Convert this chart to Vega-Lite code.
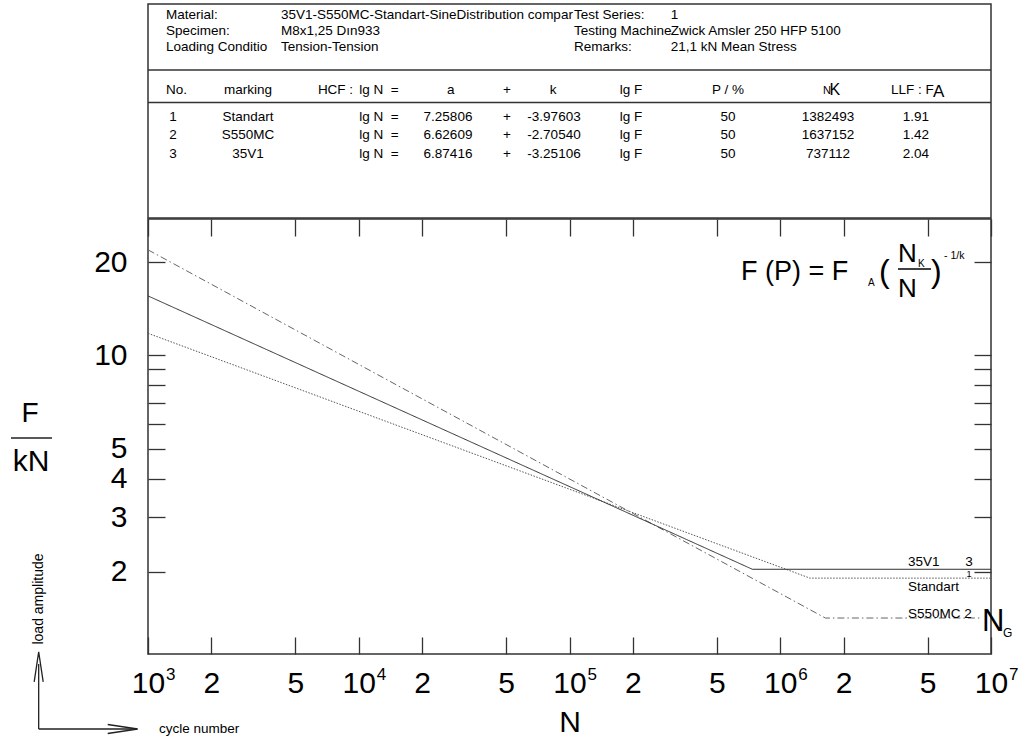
{
  "$schema": "https://vega.github.io/schema/vega-lite/v6.json",
  "background": "white",
  "padding": {"left": 9, "top": 3, "right": 0, "bottom": 0},
  "spacing": -4,
  "config": {
    "font": "Liberation Sans",
    "view": {"stroke": "#333", "strokeWidth": 1.5},
    "text": {"color": "#000", "font": "Liberation Sans", "fontSize": 13.5},
    "locale": {"number": {"decimal": ".", "thousands": ",", "grouping": [3], "currency": ["$", ""], "minus": "-"}}
  },
  "datasets": {
    "lines": [
      {"marking": "Standart", "N": 1000, "F": 11.776},
      {"marking": "Standart", "N": 1382493, "F": 1.91},
      {"marking": "Standart", "N": 10000000, "F": 1.91},
      {"marking": "S550MC", "N": 1000, "F": 21.894},
      {"marking": "S550MC", "N": 1637152, "F": 1.42},
      {"marking": "S550MC", "N": 9000000, "F": 1.42},
      {"marking": "35V1", "N": 1000, "F": 15.546},
      {"marking": "35V1", "N": 737112, "F": 2.04},
      {"marking": "35V1", "N": 10000000, "F": 2.04}
    ],
    "table": [
      {"No": 1, "marking": "Standart", "a": 7.25806, "k": -3.97603, "P": 50, "NK": 1382493, "LLF": 1.91},
      {"No": 2, "marking": "S550MC", "a": 6.62609, "k": -2.7054, "P": 50, "NK": 1637152, "LLF": 1.42},
      {"No": 3, "marking": "35V1", "a": 6.87416, "k": -3.25106, "P": 50, "NK": 737112, "LLF": 2.04}
    ],
    "info": [
      {"line": 1, "label": "Material:", "value": "35V1-S550MC-Standart-SineDistribution compar", "label2": "Test Series:", "value2": "1"},
      {"line": 2, "label": "Specimen:", "value": "M8x1,25 Dın933", "label2": "Testing Machine", "value2": "Zwick Amsler 250 HFP 5100"},
      {"line": 3, "label": "Loading Conditio", "value": "Tension-Tension", "label2": "Remarks:", "value2": "21,1 kN Mean Stress"}
    ],
    "decades": [
      {"N": 1000, "exp": "3"},
      {"N": 10000, "exp": "4"},
      {"N": 100000, "exp": "5"},
      {"N": 1000000, "exp": "6"},
      {"N": 10000000, "exp": "7"}
    ]
  },
  "vconcat": [
    {
      "width": 843,
      "height": 214,
      "data": {"values": [{}]},
      "layer": [
        {
          "data": {"name": "info"},
          "layer": [
            {"mark": {"type": "text", "align": "left", "baseline": "alphabetic", "fontSize": 13.5},
             "encoding": {"x": {"datum": 2.135, "type": "quantitative", "scale": {"domain": [0, 100], "nice": false, "zero": false}, "axis": null},
                          "y": {"field": "line", "type": "quantitative", "scale": {"domain": [0.0316, 13.576], "reverse": true, "nice": false, "zero": false}, "axis": null},
                          "text": {"field": "label"}}},
            {"mark": {"type": "text", "align": "left", "baseline": "alphabetic", "fontSize": 13.5},
             "encoding": {"x": {"datum": 15.777, "axis": null}, "y": {"field": "line", "type": "quantitative", "axis": null}, "text": {"field": "value"}}},
            {"mark": {"type": "text", "align": "left", "baseline": "alphabetic", "fontSize": 13.5},
             "encoding": {"x": {"datum": 50.534, "axis": null}, "y": {"field": "line", "type": "quantitative", "axis": null}, "text": {"field": "label2"}}},
            {"mark": {"type": "text", "align": "left", "baseline": "alphabetic", "fontSize": 13.5},
             "encoding": {"x": {"datum": 62.0, "axis": null}, "y": {"field": "line", "type": "quantitative", "axis": null}, "text": {"field": "value2"}}}
          ]
        },
        {
          "layer": [
            {"data": {"name": "table"}, "mark": {"type": "text", "align": "center", "baseline": "alphabetic"},
             "encoding": {"x": {"datum": 2.966, "axis": null},
                          "y": {"field": "No", "type": "quantitative", "scale": {"domain": [-5.376, 6.286], "reverse": true, "nice": false, "zero": false}, "axis": null},
                          "text": {"field": "No", "type": "nominal"}}},
            {"data": {"name": "table"}, "mark": {"type": "text", "align": "center", "baseline": "alphabetic"},
             "encoding": {"x": {"datum": 11.862, "axis": null}, "y": {"field": "No", "type": "quantitative", "axis": null}, "text": {"field": "marking"}}},
            {"data": {"name": "table"}, "mark": {"type": "text", "align": "center", "baseline": "alphabetic", "text": "lg N\u00a0 ="},
             "encoding": {"x": {"datum": 27.402, "axis": null}, "y": {"field": "No", "type": "quantitative", "axis": null}}},
            {"data": {"name": "table"}, "mark": {"type": "text", "align": "center", "baseline": "alphabetic"},
             "encoding": {"x": {"datum": 35.587, "axis": null}, "y": {"field": "No", "type": "quantitative", "axis": null}, "text": {"field": "a", "type": "quantitative", "format": ".5f"}}},
            {"data": {"name": "table"}, "mark": {"type": "text", "align": "center", "baseline": "alphabetic", "text": "+"},
             "encoding": {"x": {"datum": 42.586, "axis": null}, "y": {"field": "No", "type": "quantitative", "axis": null}}},
            {"data": {"name": "table"}, "mark": {"type": "text", "align": "center", "baseline": "alphabetic"},
             "encoding": {"x": {"datum": 48.161, "axis": null}, "y": {"field": "No", "type": "quantitative", "axis": null}, "text": {"field": "k", "type": "quantitative", "format": ".5f"}}},
            {"data": {"name": "table"}, "mark": {"type": "text", "align": "center", "baseline": "alphabetic", "text": "lg F"},
             "encoding": {"x": {"datum": 57.295, "axis": null}, "y": {"field": "No", "type": "quantitative", "axis": null}}},
            {"data": {"name": "table"}, "mark": {"type": "text", "align": "center", "baseline": "alphabetic"},
             "encoding": {"x": {"datum": 68.802, "axis": null}, "y": {"field": "No", "type": "quantitative", "axis": null}, "text": {"field": "P", "type": "nominal"}}},
            {"data": {"name": "table"}, "mark": {"type": "text", "align": "center", "baseline": "alphabetic"},
             "encoding": {"x": {"datum": 80.664, "axis": null}, "y": {"field": "No", "type": "quantitative", "axis": null}, "text": {"field": "NK", "type": "nominal"}}},
            {"data": {"name": "table"}, "mark": {"type": "text", "align": "center", "baseline": "alphabetic"},
             "encoding": {"x": {"datum": 91.103, "axis": null}, "y": {"field": "No", "type": "quantitative", "axis": null}, "text": {"field": "LLF", "type": "quantitative", "format": ".2f"}}},
            {"mark": {"type": "text", "text": "No.", "align": "left", "baseline": "alphabetic"}, "encoding": {"x": {"datum": 2.135, "axis": null}, "y": {"datum": -0.482, "axis": null}}},
            {"mark": {"type": "text", "text": "marking", "align": "center", "baseline": "alphabetic"}, "encoding": {"x": {"datum": 11.862, "axis": null}, "y": {"datum": -0.482, "axis": null}}},
            {"mark": {"type": "text", "text": "HCF :", "align": "center", "baseline": "alphabetic"}, "encoding": {"x": {"datum": 22.242, "axis": null}, "y": {"datum": -0.482, "axis": null}}},
            {"mark": {"type": "text", "text": "lg N\u00a0 =", "align": "center", "baseline": "alphabetic"}, "encoding": {"x": {"datum": 27.402, "axis": null}, "y": {"datum": -0.482, "axis": null}}},
            {"mark": {"type": "text", "text": "a", "align": "center", "baseline": "alphabetic"}, "encoding": {"x": {"datum": 35.9, "axis": null}, "y": {"datum": -0.482, "axis": null}}},
            {"mark": {"type": "text", "text": "+", "align": "center", "baseline": "alphabetic"}, "encoding": {"x": {"datum": 42.586, "axis": null}, "y": {"datum": -0.482, "axis": null}}},
            {"mark": {"type": "text", "text": "k", "align": "center", "baseline": "alphabetic"}, "encoding": {"x": {"datum": 48.043, "axis": null}, "y": {"datum": -0.482, "axis": null}}},
            {"mark": {"type": "text", "text": "lg F", "align": "center", "baseline": "alphabetic"}, "encoding": {"x": {"datum": 57.295, "axis": null}, "y": {"datum": -0.482, "axis": null}}},
            {"mark": {"type": "text", "text": "P / %", "align": "center", "baseline": "alphabetic"}, "encoding": {"x": {"datum": 68.802, "axis": null}, "y": {"datum": -0.482, "axis": null}}},
            {"mark": {"type": "text", "text": "N", "align": "left", "baseline": "alphabetic", "fontSize": 11}, "encoding": {"x": {"datum": 80.071, "axis": null}, "y": {"datum": -0.482, "axis": null}}},
            {"mark": {"type": "text", "text": "K", "align": "left", "baseline": "alphabetic", "fontSize": 16}, "encoding": {"x": {"datum": 80.842, "axis": null}, "y": {"datum": -0.417, "axis": null}}},
            {"mark": {"type": "text", "text": "LLF : F", "align": "left", "baseline": "alphabetic"}, "encoding": {"x": {"datum": 88.138, "axis": null}, "y": {"datum": -0.482, "axis": null}}},
            {"mark": {"type": "text", "text": "A", "align": "left", "baseline": "alphabetic", "fontSize": 17}, "encoding": {"x": {"datum": 93.12, "axis": null}, "y": {"datum": -0.308, "axis": null}}},
            {"mark": {"type": "rule", "color": "#333", "strokeWidth": 1.5}, "encoding": {"x": {"datum": 0, "axis": null}, "x2": {"datum": 100}, "y": {"datum": -1.779, "axis": null}}},
            {"mark": {"type": "rule", "color": "#333", "strokeWidth": 1.5}, "encoding": {"x": {"datum": 0, "axis": null}, "x2": {"datum": 100}, "y": {"datum": -0.008, "axis": null}}}
          ]
        }
      ],
      "resolve": {"scale": {"y": "independent"}}
    },
    {
      "width": 843,
      "height": 435,
      "layer": [
        {
          "data": {"name": "lines"},
          "mark": {"type": "line"},
          "encoding": {
            "x": {"field": "N", "type": "quantitative",
                  "scale": {"type": "log", "domain": [1000, 10000000], "nice": false},
                  "axis": {"orient": "bottom", "values": [1000, 2000, 5000, 10000, 20000, 50000, 100000, 200000, 500000, 1000000, 2000000, 5000000, 10000000],
                           "labelExpr": "indexof([1000,10000,100000,1000000,10000000], datum.value) >= 0 ? '10' : format(datum.value / pow(10, floor(log(datum.value) / LN10 + 0.000001)), '.0f')",
                           "tickSize": -17, "tickColor": "#333", "tickWidth": 1.3, "domain": false, "grid": false,
                           "labelFontSize": 30, "labelFont": "Liberation Sans", "labelColor": "#000", "labelPadding": 31,
                           "labelOverlap": false, "labelFlush": false, "labelBound": false,
                           "title": "N", "titleFontSize": 30, "titleFont": "Liberation Sans", "titleFontWeight": "normal", "titleColor": "#000", "titlePadding": 9}},
            "y": {"field": "F", "type": "quantitative",
                  "scale": {"type": "log", "domain": [1.087, 27.53], "nice": false},
                  "axis": {"orient": "left", "values": [2, 3, 4, 5, 6, 7, 8, 9, 10, 20],
                           "labelExpr": "datum.value >= 6 && datum.value <= 9 ? '' : format(datum.value, 'd')",
                           "tickSize": -17, "tickColor": "#333", "tickWidth": 1.3, "domain": false, "grid": false,
                           "labelFontSize": 30, "labelFont": "Liberation Sans", "labelColor": "#000", "labelPadding": 38,
                           "labelOverlap": false, "labelFlush": false, "labelBound": false, "title": null}},
            "detail": {"field": "marking"},
            "color": {"field": "marking", "type": "nominal", "scale": {"domain": ["Standart", "S550MC", "35V1"], "range": ["#555555", "#666666", "#2a2a2a"]}, "legend": null},
            "strokeDash": {"field": "marking", "type": "nominal", "scale": {"domain": ["Standart", "S550MC", "35V1"], "range": [[1.5, 1.5], [7, 3, 1.5, 3], [1, 0]]}, "legend": null},
            "strokeWidth": {"field": "marking", "type": "nominal", "scale": {"domain": ["Standart", "S550MC", "35V1"], "range": [1, 1, 1.5]}, "legend": null}
          }
        },
        {
          "data": {"values": [{}]},
          "layer": [
            {"data": {"name": "decades"}, "mark": {"type": "text", "fontSize": 17, "align": "left", "baseline": "middle", "dx": 18},
             "encoding": {"x": {"field": "N", "type": "quantitative", "axis": null}, "y": {"datum": 0.93, "axis": null}, "text": {"field": "exp", "type": "nominal"}}},
            {"mark": {"type": "text", "text": "F (P) = F", "fontSize": 27, "align": "left", "baseline": "alphabetic"}, "encoding": {"x": {"datum": 651400, "axis": null}, "y": {"datum": 17.5, "axis": null}}},
            {"mark": {"type": "text", "text": "A", "fontSize": 10, "align": "left", "baseline": "alphabetic"}, "encoding": {"x": {"datum": 2609000, "axis": null}, "y": {"datum": 16.73, "axis": null}}},
            {"mark": {"type": "text", "text": "(", "fontSize": 32, "align": "left", "baseline": "alphabetic"}, "encoding": {"x": {"datum": 2942000, "axis": null}, "y": {"datum": 17.24, "axis": null}}},
            {"mark": {"type": "text", "text": "N", "fontSize": 26, "align": "left", "baseline": "alphabetic"}, "encoding": {"x": {"datum": 3621000, "axis": null}, "y": {"datum": 20.0, "axis": null}}},
            {"mark": {"type": "text", "text": "K", "fontSize": 10, "align": "left", "baseline": "alphabetic"}, "encoding": {"x": {"datum": 4504000, "axis": null}, "y": {"datum": 19.27, "axis": null}}},
            {"mark": {"type": "rule", "color": "#000", "strokeWidth": 1.5}, "encoding": {"x": {"datum": 3621000, "axis": null}, "x2": {"datum": 5191000}, "y": {"datum": 18.99, "axis": null}}},
            {"mark": {"type": "text", "text": "N", "fontSize": 26, "align": "left", "baseline": "alphabetic"}, "encoding": {"x": {"datum": 3621000, "axis": null}, "y": {"datum": 15.42, "axis": null}}},
            {"mark": {"type": "text", "text": ")", "fontSize": 32, "align": "left", "baseline": "alphabetic"}, "encoding": {"x": {"datum": 5191000, "axis": null}, "y": {"datum": 17.24, "axis": null}}},
            {"mark": {"type": "text", "text": "- 1/k", "fontSize": 10.5, "align": "left", "baseline": "alphabetic"}, "encoding": {"x": {"datum": 5984000, "axis": null}, "y": {"datum": 20.45, "axis": null}}},
            {"mark": {"type": "text", "text": "35V1", "align": "left", "baseline": "middle"}, "encoding": {"x": {"datum": 4038000, "axis": null}, "y": {"datum": 2.153, "axis": null}}},
            {"mark": {"type": "text", "text": "3", "align": "center", "baseline": "middle"}, "encoding": {"x": {"datum": 7863000, "axis": null}, "y": {"datum": 2.153, "axis": null}}},
            {"mark": {"type": "text", "text": "1", "fontSize": 9, "align": "center", "baseline": "middle"}, "encoding": {"x": {"datum": 7863000, "axis": null}, "y": {"datum": 1.969, "axis": null}}},
            {"mark": {"type": "text", "text": "Standart", "align": "left", "baseline": "middle"}, "encoding": {"x": {"datum": 4038000, "axis": null}, "y": {"datum": 1.788, "axis": null}}},
            {"mark": {"type": "text", "text": "S550MC 2", "align": "left", "baseline": "middle"}, "encoding": {"x": {"datum": 4038000, "axis": null}, "y": {"datum": 1.4627, "axis": null}}},
            {"mark": {"type": "text", "text": "N", "fontSize": 31, "align": "left", "baseline": "middle"}, "encoding": {"x": {"datum": 9064000, "axis": null}, "y": {"datum": 1.3785, "axis": null}}},
            {"mark": {"type": "text", "text": "G", "fontSize": 12, "align": "left", "baseline": "middle"}, "encoding": {"x": {"datum": 11402000, "axis": null}, "y": {"datum": 1.2701, "axis": null}}},
            {"mark": {"type": "text", "text": "F", "fontSize": 28, "align": "center", "baseline": "middle"}, "encoding": {"x": {"datum": 275.4, "axis": null}, "y": {"datum": 6.466, "axis": null}}},
            {"mark": {"type": "rule", "color": "#222", "strokeWidth": 1.5}, "encoding": {"x": {"datum": 223.8, "axis": null}, "x2": {"datum": 350.4}, "y": {"datum": 5.409, "axis": null}}},
            {"mark": {"type": "text", "text": "kN", "fontSize": 30, "align": "center", "baseline": "middle"}, "encoding": {"x": {"datum": 278.6, "axis": null}, "y": {"datum": 4.526, "axis": null}}},
            {"mark": {"type": "text", "text": "load amplitude", "fontSize": 14, "angle": 270, "align": "center", "baseline": "middle"}, "encoding": {"x": {"datum": 303.9, "axis": null}, "y": {"datum": 1.6356, "axis": null}}},
            {"mark": {"type": "rule", "color": "#222", "strokeWidth": 1.3}, "encoding": {"x": {"datum": 302.9, "axis": null}, "y": {"datum": 0.6226, "axis": null}, "y2": {"datum": 1.009}}},
            {"mark": {"type": "rule", "color": "#222", "strokeWidth": 1.3}, "encoding": {"x": {"datum": 302.9, "axis": null}, "x2": {"datum": 886.8}, "y": {"datum": 0.6226, "axis": null}}},
            {"mark": {"type": "point", "shape": "M-0.3,1L0,-1L0.3,1", "size": 900, "filled": false, "stroke": "#222", "strokeWidth": 1.3, "opacity": 1}, "encoding": {"x": {"datum": 302.9, "axis": null}, "y": {"datum": 0.9874, "axis": null}}},
            {"mark": {"type": "point", "shape": "M-1,-0.3L1,0L-1,0.3", "size": 900, "filled": false, "stroke": "#222", "strokeWidth": 1.3, "opacity": 1}, "encoding": {"x": {"datum": 758.5, "axis": null}, "y": {"datum": 0.6226, "axis": null}}},
            {"mark": {"type": "text", "text": "cycle number", "fontSize": 13.5, "align": "left", "baseline": "middle"}, "encoding": {"x": {"datum": 1127.6, "axis": null}, "y": {"datum": 0.6226, "axis": null}}}
          ]
        },
        {
          "data": {"name": "lines"},
          "mark": {"type": "point", "opacity": 0},
          "encoding": {
            "x": {"field": "N", "type": "quantitative", "scale": {"type": "log", "domain": [1000, 10000000], "nice": false},
                  "axis": {"orient": "top", "values": [1000, 2000, 5000, 10000, 20000, 50000, 100000, 200000, 500000, 1000000, 2000000, 5000000, 10000000],
                           "labels": false, "tickSize": -17, "tickColor": "#333", "tickWidth": 1.3, "domain": false, "grid": false, "title": null, "minExtent": 0, "maxExtent": 0}},
            "y": {"field": "F", "type": "quantitative", "scale": {"type": "log", "domain": [1.087, 27.53], "nice": false},
                  "axis": {"orient": "right", "values": [2, 3, 4, 5, 6, 7, 8, 9, 10, 20],
                           "labels": false, "tickSize": -17, "tickColor": "#333", "tickWidth": 1.3, "domain": false, "grid": false, "title": null, "minExtent": 0, "maxExtent": 0}}
          }
        }
      ],
      "resolve": {"axis": {"x": "independent", "y": "independent"}}
    }
  ]
}
